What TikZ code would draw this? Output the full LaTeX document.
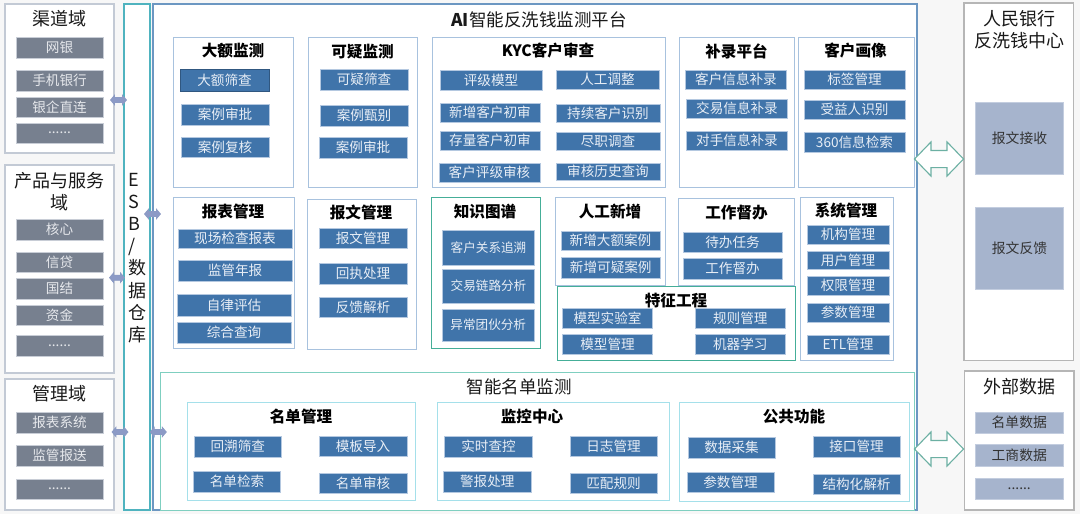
\documentclass[tikz,border=0pt]{standalone}
\usepackage{fontspec}
\setmainfont{Noto Sans CJK SC}
\usetikzlibrary{shapes.arrows}
\definecolor{bluefill}{HTML}{4074AA}
\definecolor{blueedge}{HTML}{B4C8E0}
\definecolor{bluetext}{HTML}{E8EEF6}
\definecolor{greyfill}{HTML}{77808F}
\definecolor{greyedge}{HTML}{C8CDD6}
\definecolor{greytext}{HTML}{E6E8EC}
\definecolor{periw}{HTML}{A6B4CD}
\definecolor{periwedge}{HTML}{C3CDDF}
\definecolor{panelblue}{HTML}{A8C2DE}
\definecolor{teal}{HTML}{45AE98}
\definecolor{mint}{HTML}{7FCFC0}
\definecolor{cyanl}{HTML}{A5E0EA}
\definecolor{esb}{HTML}{4FB3BF}
\definecolor{mainb}{HTML}{6C97C2}
\definecolor{lgrey}{HTML}{C3CAD5}
\definecolor{mgrey}{HTML}{B6B6B6}
\definecolor{arrowf}{HTML}{8C9AC6}
\definecolor{arrowe}{HTML}{8B9AC4}
\tikzset{
  x=1pt,y=-1pt,
  boxbase/.style={anchor=north west,inner sep=0pt,outer sep=0pt,align=center},
  blueitem/.style={boxbase,fill=bluefill,draw=blueedge,line width=.9pt,text=bluetext,font=\fontsize{13.6}{16}\selectfont},
  blueitemb/.style={blueitem,draw=bluefill!75!black},
  kgitem/.style={blueitem,font=\fontsize{12.6}{15}\selectfont},
  greyitem/.style={boxbase,fill=greyfill,draw=greyedge,line width=.9pt,text=greytext,font=\fontsize{13.6}{16}\selectfont},
  periwitem/.style={boxbase,fill=periw,draw=periwedge,line width=.7pt,text=black!80,font=\fontsize{13.8}{16}\selectfont},
  panel/.style={boxbase,fill=white,draw=panelblue,line width=1pt},
  tealpanel/.style={boxbase,fill=white,draw=teal,line width=1pt},
  mintpanel/.style={boxbase,fill=white,draw=mint,line width=1pt},
  cyanpanel/.style={boxbase,fill=white,draw=cyanl,line width=1pt},
  lgpanel/.style={boxbase,fill=white,draw=lgrey,line width=1.1pt},
  mgpanel/.style={boxbase,fill=white,draw=mgrey,line width=1.1pt},
  head/.style={inner sep=0pt,font=\fontsize{15.6}{18}\selectfont\bfseries,text=black},
  bighead/.style={inner sep=0pt,align=center,font=\fontsize{18}{22}\selectfont,text=black!90},
  smallarrow/.style={double arrow,inner sep=0pt,minimum height=16pt,minimum width=9pt,double arrow head extend=2.2pt,double arrow tip angle=100,fill=arrowf,draw=arrowe,line width=.7pt},
  bigarrow/.style={double arrow,inner sep=0pt,minimum height=49pt,minimum width=33pt,double arrow head extend=8.5pt,double arrow tip angle=92,fill=white,draw=mint!85!black,line width=1.1pt},
}
% style, name, x0, y0, x1, y1, text
\newcommand{\Bx}[7]{\pgfmathsetlengthmacro{\bw}{(#5)-(#3)}\pgfmathsetlengthmacro{\bh}{(#6)-(#4)}\node[#1,minimum width=\bw,minimum height=\bh] (#2) at (#3,#4) {#7};}
\begin{document}
\begin{tikzpicture}
\useasboundingbox (0,0) rectangle (1080,514);
\fill[fill=black!3] (0,0) rectangle (1080,514);
% left domains
\Bx{lgpanel}{chan}{5}{4}{114}{153}{}
\Bx{lgpanel}{prod}{5}{165}{114}{373}{}
\Bx{lgpanel}{mgmt}{5}{379}{114}{510}{}
\node[bighead] (tchan) at (59.5,19) {渠道域};
\node[bighead] (tprod) at (59.5,192) {产品与服务\\域};
\node[bighead] (tmgmt) at (59.5,394) {管理域};
\Bx{greyitem}{g1}{16}{37}{103}{58}{网银}
\Bx{greyitem}{g2}{16}{70}{103}{91}{手机银行}
\Bx{greyitem}{g3}{16}{97}{103}{117}{银企直连}
\Bx{greyitem}{g4}{16}{123}{103}{143}{......}
\Bx{greyitem}{g5}{16}{219}{103}{240}{核心}
\Bx{greyitem}{g6}{16}{252}{103}{272}{信贷}
\Bx{greyitem}{g7}{16}{278}{103}{299}{国结}
\Bx{greyitem}{g8}{16}{305}{103}{325}{资金}
\Bx{greyitem}{g9}{16}{335}{103}{356}{......}
\Bx{greyitem}{g10}{16}{412}{103}{433}{报表系统}
\Bx{greyitem}{g11}{16}{445}{103}{466}{监管报送}
\Bx{greyitem}{g12}{16}{479}{103}{499}{......}
% ESB
\Bx{boxbase}{esb}{124}{4}{150}{510}{}
\draw[esb,line width=1.1pt,fill=white] (esb.north west) rectangle (esb.south east);
\node[anchor=west,inner sep=0pt,align=left,font=\fontsize{18}{22.2}\selectfont,text=black!90] (tesb) at (128.5,258) {E\\S\\B\\/\\数\\据\\仓\\库};
% main
\Bx{boxbase}{main}{153}{4}{917}{510}{}
\draw[mainb,line width=1.1pt,fill=white] (main.north west) rectangle (main.south east);
\node[inner sep=0pt,font=\fontsize{17.5}{20}\selectfont,text=black!90] (tmain) at (539,20) {\textbf{AI}智能反洗钱监测平台};
% upper panels
\Bx{panel}{p1}{173}{37}{293}{187}{}
\Bx{panel}{p2}{308}{37}{417}{187}{}
\Bx{panel}{p3}{432.5}{37}{665.5}{187}{}
\Bx{panel}{p4}{679}{37}{794.5}{187}{}
\Bx{panel}{p5}{798}{37}{914}{187}{}
\Bx{panel}{p6}{173}{197}{294}{348}{}
\Bx{panel}{p7}{307}{199}{416}{349}{}
\Bx{tealpanel}{p8}{431}{197}{540}{348}{}
\Bx{panel}{p9}{555.5}{197}{665}{285}{}
\Bx{panel}{p10}{678.5}{198}{794.5}{285}{}
\Bx{panel}{p11}{800.5}{197}{893.5}{360.5}{}
\Bx{tealpanel}{p12}{557}{286}{795}{360.5}{}
\node[head] (t1) at (233,51) {大额监测};
\node[head] (t2) at (362.5,52) {可疑监测};
\node[head] (t3) at (548,51) {KYC客户审查};
\node[head] (t4) at (736.5,51) {补录平台};
\node[head] (t5) at (855.5,51) {客户画像};
\node[head] (t6) at (233,212) {报表管理};
\node[head] (t7) at (361,213) {报文管理};
\node[head] (t8) at (485,212) {知识图谱};
\node[head] (t9) at (610,212) {人工新增};
\node[head] (t10) at (736.5,213) {工作督办};
\node[head] (t11) at (846,211) {系统管理};
\node[head] (t12) at (676,300.5) {特征工程};
% items
\Bx{blueitemb}{a1}{180}{69}{269}{91}{大额筛查}
\Bx{blueitem}{a2}{181}{104}{269}{125}{案例审批}
\Bx{blueitem}{a3}{181}{137}{269}{157}{案例复核}
\Bx{blueitem}{b1}{320}{69}{408}{90}{可疑筛查}
\Bx{blueitem}{b2}{320}{105}{408}{126}{案例甄别}
\Bx{blueitem}{b3}{319}{137}{407}{158}{案例审批}
\Bx{blueitem}{k1}{440}{70}{542}{90}{评级模型}
\Bx{blueitem}{k2}{556}{70}{659}{89}{人工调整}
\Bx{blueitem}{k3}{440}{103}{540}{122}{新增客户初审}
\Bx{blueitem}{k4}{556}{104}{660}{122}{持续客户识别}
\Bx{blueitem}{k5}{440}{131}{540}{150}{存量客户初审}
\Bx{blueitem}{k6}{556}{132}{660}{150}{尽职调查}
\Bx{blueitem}{k7}{439}{163}{540}{182}{客户评级审核}
\Bx{blueitem}{k8}{556}{163}{660}{180}{审核历史查询}
\Bx{blueitem}{c1}{685.5}{70}{786.5}{89}{客户信息补录}
\Bx{blueitem}{c2}{686.5}{99}{787.5}{118}{交易信息补录}
\Bx{blueitem}{c3}{686.5}{131}{787.5}{150}{对手信息补录}
\Bx{blueitem}{d1}{804}{70}{905}{89}{标签管理}
\Bx{blueitem}{d2}{804}{100}{905}{119}{受益人识别}
\Bx{blueitem}{d3}{804}{132}{905}{152}{360信息检索}
\Bx{blueitem}{e1}{178}{229}{292}{248}{现场检查报表}
\Bx{blueitem}{e2}{178}{260}{292}{281}{监管年报}
\Bx{blueitem}{e3}{177}{294}{291}{316}{自律评估}
\Bx{blueitem}{e4}{177}{322}{291}{343}{综合查询}
\Bx{blueitem}{f1}{319}{228}{407}{248}{报文管理}
\Bx{blueitem}{f2}{319}{263}{407}{284}{回执处理}
\Bx{blueitem}{f3}{319}{297}{407}{317}{反馈解析}
\Bx{kgitem}{h1}{442.5}{230}{534.5}{265}{客户关系追溯}
\Bx{kgitem}{h2}{442.5}{269}{534.5}{303}{交易链路分析}
\Bx{kgitem}{h3}{442}{309}{534.5}{341}{异常团伙分析}
\Bx{blueitem}{i1}{561}{231}{660}{250}{新增大额案例}
\Bx{blueitem}{i2}{561}{257}{660.5}{278}{新增可疑案例}
\Bx{blueitem}{j1}{683}{232}{782}{252}{待办任务}
\Bx{blueitem}{j2}{683}{258}{782}{279}{工作督办}
\Bx{blueitem}{m1}{807}{225}{889}{244}{机构管理}
\Bx{blueitem}{m2}{807}{251}{889}{269}{用户管理}
\Bx{blueitem}{m3}{807}{276}{889}{295}{权限管理}
\Bx{blueitem}{m4}{807}{303}{889}{322}{参数管理}
\Bx{blueitem}{m5}{807}{335}{889}{354}{ETL管理}
\Bx{blueitem}{n1}{562.5}{308}{652.5}{328}{模型实验室}
\Bx{blueitem}{n2}{695}{308}{785.5}{328}{规则管理}
\Bx{blueitem}{n3}{562.5}{334}{652.5}{354}{模型管理}
\Bx{blueitem}{n4}{695}{334}{785.5}{354}{机器学习}
% list monitoring
\Bx{mintpanel}{list}{160.5}{372}{914.5}{510}{}
\node[inner sep=0pt,font=\fontsize{17.5}{20}\selectfont,text=black!90] (tlist) at (519,387) {智能名单监测};
\Bx{cyanpanel}{q1}{187.5}{402}{415.5}{500.5}{}
\Bx{cyanpanel}{q2}{437.5}{402}{669}{500.5}{}
\Bx{cyanpanel}{q3}{679}{402}{909}{501}{}
\node[head] (tq1) at (301,416.5) {名单管理};
\node[head] (tq2) at (532,416.5) {监控中心};
\node[head] (tq3) at (794,416.5) {公共功能};
\Bx{blueitem}{r1}{194}{436}{281.5}{457}{回溯筛查}
\Bx{blueitem}{r2}{319}{436}{407}{456}{模板导入}
\Bx{blueitem}{r3}{193.5}{471}{280.5}{492}{名单检索}
\Bx{blueitem}{r4}{319}{473}{407}{493}{名单审核}
\Bx{blueitem}{s1}{444.5}{436}{532.5}{457}{实时查控}
\Bx{blueitem}{s2}{570}{436}{657}{456}{日志管理}
\Bx{blueitem}{s3}{443.5}{471}{531}{492}{警报处理}
\Bx{blueitem}{s4}{570}{473}{657}{493}{匹配规则}
\Bx{blueitem}{u1}{688}{437}{775}{458}{数据采集}
\Bx{blueitem}{u2}{813}{436}{900}{457}{接口管理}
\Bx{blueitem}{u3}{687}{472}{774}{492}{参数管理}
\Bx{blueitem}{u4}{813}{474}{900}{494}{结构化解析}
% right
\Bx{mgpanel}{pboc}{964}{3}{1073.5}{360.5}{}
\Bx{mgpanel}{ext}{964.5}{371}{1074}{510}{}
\node[bighead] (tpboc) at (1019,29.5) {人民银行\\反洗钱中心};
\node[bighead] (text) at (1019,387) {外部数据};
\Bx{periwitem}{v1}{975.5}{102}{1063.5}{174}{报文接收}
\Bx{periwitem}{v2}{975.5}{207}{1063.5}{289}{报文反馈}
\Bx{periwitem}{w1}{975}{412}{1063.5}{433}{名单数据}
\Bx{periwitem}{w2}{975}{444}{1063.5}{466}{工商数据}
\Bx{periwitem}{w3}{975}{478}{1063.5}{499}{......}
% arrows
\node[smallarrow] (ar1) at (118.5,100) {\rule{0pt}{4.4pt}};
\node[smallarrow] (ar2) at (152.5,214) {\rule{0pt}{4.4pt}};
\node[smallarrow,minimum height=15pt] (ar3) at (117,277.7) {\rule{0pt}{4.4pt}};
\node[smallarrow] (ar4) at (120,432) {\rule{0pt}{4.4pt}};
\node[smallarrow] (ar5) at (158.3,432) {\rule{0pt}{4.4pt}};
\node[bigarrow] (br1) at (939,159) {\rule{0pt}{16pt}};
\node[bigarrow] (br2) at (939,449) {\rule{0pt}{16pt}};
\end{tikzpicture}
\end{document}
